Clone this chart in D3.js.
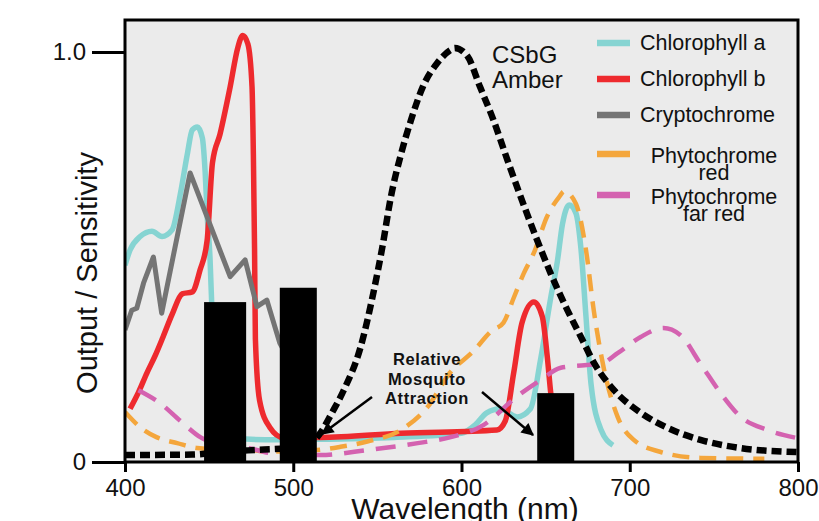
<!DOCTYPE html>
<html>
<head>
<meta charset="utf-8">
<script src="https://cdn.jsdelivr.net/npm/d3@7"></script>
<style>
  body { margin: 0; background: #fff; }
  svg { display: block; }
</style>
</head>
<body>
<div id="chart"></div>
<script>
// spectra as [wavelength nm, relative value]
var chlorophyllA = [[400,0.48],[403,0.517],[409,0.55],[416,0.563],[422,0.55],[428,0.566],[433,0.656],[437,0.75],[440,0.81],[443,0.817],[446,0.79],[447.6,0.71],[449,0.59],[450.5,0.5],[451.5,0.39],[453,0.2],[456,0.09],[462,0.06],[472,0.056],[490,0.054],[510,0.055],[560,0.06],[600,0.07],[608,0.09],[615,0.12],[623,0.13],[633,0.11],[641,0.13],[647,0.25],[653,0.4],[657,0.49],[660,0.58],[664,0.627],[668,0.607],[671,0.52],[674,0.354],[677,0.19],[683,0.078],[690,0.041]];
var chlorophyllB = [[403,0.13],[408,0.17],[413,0.217],[418,0.26],[422.6,0.305],[428,0.36],[434,0.41],[440,0.415],[444.6,0.468],[448.8,0.54],[452,0.73],[456.5,0.80],[462.5,0.915],[467,1.01],[470,1.04],[473,1.02],[475.5,0.915],[476.3,0.75],[477,0.52],[477.5,0.30],[480,0.15],[486,0.085],[494,0.06],[516,0.06],[564,0.07],[621,0.078],[626,0.10],[631,0.217],[636,0.34],[643,0.39],[648,0.355],[651,0.256],[653,0.17],[656,0.08]];
var cryptochrome = [[400,0.322],[404,0.37],[407,0.375],[411,0.436],[416.9,0.50],[421.8,0.363],[438.7,0.705],[462.5,0.452],[471.4,0.493],[478.4,0.379],[484.3,0.395],[492,0.29],[496,0.26]];
var phytochromeRed = [[400,0.122],[409,0.085],[419,0.06],[431,0.046],[443,0.034],[460,0.03],[473,0.03],[485,0.025],[500,0.027],[516,0.03],[528,0.037],[544,0.05],[564,0.078],[580,0.135],[593,0.217],[607,0.27],[618,0.32],[625,0.34],[631,0.40],[637,0.46],[643,0.51],[651,0.6],[658,0.646],[661,0.66],[668,0.63],[674,0.517],[678.6,0.37],[684.5,0.23],[692.8,0.11],[702.4,0.054],[718,0.025],[742,0.01],[780,0.008]];
var phytochromeFarRed = [[408,0.175],[421,0.143],[433,0.10],[445,0.06],[460,0.04],[473,0.034],[488,0.021],[516,0.017],[544,0.029],[574,0.046],[593,0.06],[613,0.09],[633,0.16],[647,0.2],[659,0.23],[673,0.236],[683,0.24],[693,0.266],[706.5,0.305],[720,0.327],[730,0.31],[742,0.24],[754,0.168],[766,0.11],[782,0.078],[800,0.058]];
var csbgAmber = [[400,0.017],[440,0.018],[460,0.025],[480,0.03],[500,0.035],[510,0.045],[516,0.07],[523,0.12],[530,0.175],[540,0.28],[548,0.42],[553,0.525],[558,0.646],[564,0.75],[570,0.834],[577,0.915],[585.6,0.973],[593.5,1.005],[596,1.01],[603.5,0.99],[611,0.915],[619,0.834],[627,0.74],[634,0.66],[641,0.583],[647,0.52],[653,0.46],[663,0.37],[671,0.305],[679,0.24],[690.5,0.176],[706.5,0.12],[722.6,0.083],[742,0.054],[766,0.034],[800,0.024]];

// relative mosquito attraction bars
var barStart = [447, 492, 645];
var barEnd = [472, 514, 667];
var barValue = [0.39, 0.425, 0.168];

var xTicks = [400, 500, 600, 700, 800];
var yTicks = [0, 1];
var legendLabels = [["Chlorophyll a"], ["Chlorophyll b"], ["Cryptochrome"], ["Phytochrome", "red"], ["Phytochrome", "far red"]];

var width = 819, height = 521;
var font = "'Liberation Sans', Arial, Helvetica, sans-serif";

var svg = d3.select("#chart").append("svg")
    .attr("width", width)
    .attr("height", height);

var x = d3.scaleLinear().domain([400, 800]).range([125, 798]);
var y = d3.scaleLinear().domain([0, 1]).range([462, 52]);
var plotTop = 20;

//Plot background
svg.append("rect")
    .attr("x", x(400)).attr("y", plotTop)
    .attr("width", x(800) - x(400)).attr("height", y(0) - plotTop)
    .attr("fill", "#ebebeb");

svg.append("clipPath").attr("id", "plotclip")
  .append("rect")
    .attr("x", x(400)).attr("y", plotTop)
    .attr("width", x(800) - x(400)).attr("height", y(0) - plotTop);

var smooth = d3.line()
    .x(function(d) { return x(d[0]); })
    .y(function(d) { return y(d[1]); })
    .curve(d3.curveMonotoneX);
var straight = d3.line()
    .x(function(d) { return x(d[0]); })
    .y(function(d) { return y(d[1]); });

var series = [
  { data: chlorophyllA, color: "#86d4d2", width: 5.5, dash: null, line: smooth },
  { data: chlorophyllB, color: "#ee2a2e", width: 5.5, dash: null, line: smooth },
  { data: cryptochrome, color: "#747474", width: 5, dash: null, line: straight },
  { data: phytochromeRed, color: "#f4a63c", width: 4.5, dash: "17,10", line: smooth },
  { data: phytochromeFarRed, color: "#d462b0", width: 4.5, dash: "20,12", line: smooth },
  { data: csbgAmber, color: "#000", width: 6.5, dash: "10,5", line: smooth }
];

var plot = svg.append("g").attr("clip-path", "url(#plotclip)");
plot.selectAll("path.spec")
    .data(series)
    .enter()
    .append("path")
    .attr("class", "spec")
    .attr("d", function(d) { return d.line(d.data); })
    .attr("fill", "none")
    .attr("stroke", function(d) { return d.color; })
    .attr("stroke-width", function(d) { return d.width; })
    .attr("stroke-dasharray", function(d) { return d.dash; })
    .attr("stroke-linejoin", "round");

//Bars
plot.selectAll("rect.bar")
    .data(barValue)
    .enter()
    .append("rect")
    .attr("class", "bar")
    .attr("x", function(d, i) { return x(barStart[i]); })
    .attr("width", function(d, i) { return x(barEnd[i]) - x(barStart[i]); })
    .attr("y", function(d) { return y(d); })
    .attr("height", function(d) { return y(0) - y(d); })
    .attr("fill", "#000");

//Frame
svg.append("rect")
    .attr("x", x(400)).attr("y", plotTop)
    .attr("width", x(800) - x(400)).attr("height", y(0) - plotTop)
    .attr("fill", "none")
    .attr("stroke", "#000")
    .attr("stroke-width", 3);

//Axes
var xAxis = svg.append("g")
    .attr("transform", "translate(0," + y(0) + ")")
    .call(d3.axisBottom(x).tickValues(xTicks).tickSize(10).tickPadding(7).tickFormat(d3.format("d")));
var yAxis = svg.append("g")
    .attr("transform", "translate(" + x(400) + ",0)")
    .call(d3.axisLeft(y).tickValues(yTicks).tickSize(33).tickPadding(6)
        .tickFormat(function(d) { return d === 0 ? "0" : "1.0"; }));
[xAxis, yAxis].forEach(function(a) {
  a.select(".domain").remove();
  a.selectAll(".tick line").attr("stroke", "#000").attr("stroke-width", 3);
  a.selectAll(".tick text")
    .style("font-family", font)
    .style("font-size", "24px")
    .attr("fill", "#111");
});

//Axis titles
svg.append("text")
    .attr("x", 465).attr("y", 519)
    .attr("text-anchor", "middle")
    .style("font-family", font)
    .style("font-size", "30px")
    .attr("fill", "#111")
    .text("Wavelength (nm)");
svg.append("text")
    .attr("transform", "translate(97,273) rotate(-90)")
    .attr("text-anchor", "middle")
    .style("font-family", font)
    .style("font-size", "29px")
    .attr("fill", "#111")
    .text("Output / Sensitivity");

//CSbG Amber label
svg.append("text")
    .attr("x", 492).attr("y", 63)
    .style("font-family", font).style("font-size", "24px").attr("fill", "#111")
    .text("CSbG");
svg.append("text")
    .attr("x", 492).attr("y", 88)
    .style("font-family", font).style("font-size", "24px").attr("fill", "#111")
    .text("Amber");

//Mosquito annotation
["Relative", "Mosquito", "Attraction"].forEach(function(t, i) {
  svg.append("text")
      .attr("x", 427).attr("y", 365 + i * 19.5)
      .attr("text-anchor", "middle")
      .style("font-family", font)
      .style("font-size", "16.5px")
      .style("font-weight", "bold")
      .style("letter-spacing", "0.6px")
      .attr("fill", "#111")
      .text(t);
});

svg.append("defs").append("marker")
    .attr("id", "arrow")
    .attr("viewBox", "0 0 10 10")
    .attr("refX", 9).attr("refY", 5)
    .attr("markerWidth", 6).attr("markerHeight", 5)
    .attr("markerUnits", "strokeWidth")
    .attr("orient", "auto")
  .append("path")
    .attr("d", "M0,0 L10,5 L0,10 z")
    .attr("fill", "#000");

var arrows = [[372, 397, 322, 434], [482, 392, 533, 435]];
svg.selectAll("line.arrow")
    .data(arrows)
    .enter()
    .append("line")
    .attr("class", "arrow")
    .attr("x1", function(d) { return d[0]; })
    .attr("y1", function(d) { return d[1]; })
    .attr("x2", function(d) { return d[2]; })
    .attr("y2", function(d) { return d[3]; })
    .attr("stroke", "#000")
    .attr("stroke-width", 2.5)
    .attr("marker-end", "url(#arrow)");

//Legend
var legend = svg.append("g");
var rowY = [43, 79, 115, 154, 195];
legendLabels.forEach(function(lab, i) {
  legend.append("line")
      .attr("x1", 597).attr("x2", 630)
      .attr("y1", rowY[i]).attr("y2", rowY[i])
      .attr("stroke", series[i].color)
      .attr("stroke-width", 6.5);
  var t = legend.append("text")
      .style("font-family", font)
      .style("font-size", "21.5px")
      .attr("fill", "#111");
  if (lab.length === 1) {
    t.attr("x", 640).attr("y", rowY[i] + 7).text(lab[0]);
  } else {
    t.attr("text-anchor", "middle");
    t.append("tspan").attr("x", 714).attr("y", rowY[i] + 9).text(lab[0]);
    t.append("tspan").attr("x", 714).attr("y", rowY[i] + 26).text(lab[1]);
  }
});
</script>
</body>
</html>
